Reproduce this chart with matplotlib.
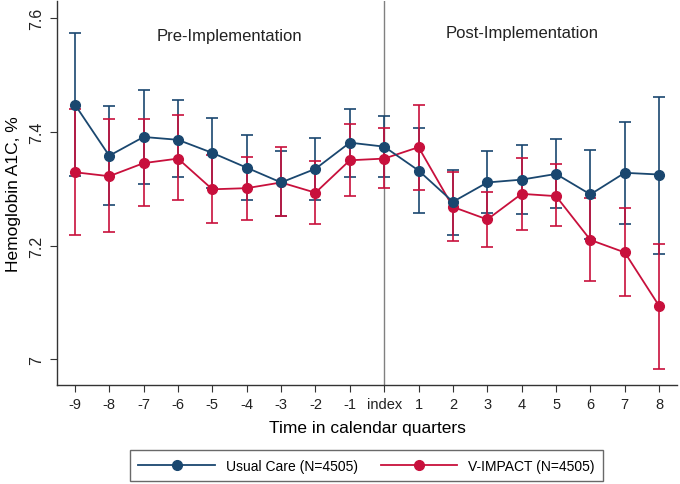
import matplotlib
matplotlib.use("Agg")
import matplotlib.pyplot as plt
import numpy as np

plt.rcParams['font.family'] = ['Liberation Sans', 'DejaVu Sans']

quarters = ['-9', '-8', '-7', '-6', '-5', '-4', '-3', '-2', '-1', 'index',
            '1', '2', '3', '4', '5', '6', '7', '8']

usual_mean = [7.448, 7.358, 7.391, 7.386, 7.363, 7.337, 7.311, 7.335, 7.381, 7.374,
              7.332, 7.277, 7.311, 7.316, 7.326, 7.290, 7.328, 7.325]
usual_lo = [7.322, 7.271, 7.309, 7.320, 7.301, 7.280, 7.252, 7.280, 7.320, 7.320,
            7.258, 7.219, 7.257, 7.255, 7.266, 7.212, 7.238, 7.186]
usual_hi = [7.574, 7.445, 7.474, 7.456, 7.425, 7.394, 7.366, 7.390, 7.441, 7.427,
            7.406, 7.333, 7.366, 7.377, 7.387, 7.368, 7.417, 7.462]

vimpact_mean = [7.329, 7.322, 7.345, 7.353, 7.299, 7.301, 7.311, 7.293, 7.350, 7.353,
                7.373, 7.268, 7.246, 7.291, 7.287, 7.210, 7.188, 7.094]
vimpact_lo = [7.219, 7.224, 7.269, 7.281, 7.239, 7.245, 7.252, 7.238, 7.288, 7.301,
              7.297, 7.209, 7.198, 7.228, 7.234, 7.137, 7.111, 6.983]
vimpact_hi = [7.440, 7.423, 7.423, 7.430, 7.360, 7.356, 7.373, 7.349, 7.413, 7.406,
              7.448, 7.329, 7.295, 7.354, 7.343, 7.283, 7.266, 7.202]

yticks = [7.0, 7.2, 7.4, 7.6]
ytick_labels = ['7', '7.2', '7.4', '7.6']

blue = '#1a476f'
red = '#c8103c'

fig = plt.figure(figsize=(6.8, 4.85), dpi=100)
ax = fig.add_axes([57/680, 1-386/485, (677-57)/680, (386-2)/485])

x = np.arange(len(quarters))
idx = quarters.index('index')

ax.axvline(idx, color='#808080', lw=1.0, zorder=1)

um = np.array(usual_mean); vm = np.array(vimpact_mean)
ax.errorbar(x, um, yerr=[um - np.array(usual_lo), np.array(usual_hi) - um],
            fmt='none', ecolor=blue, elinewidth=1.2, capsize=4, capthick=1.2, zorder=2)
ax.errorbar(x, vm, yerr=[vm - np.array(vimpact_lo), np.array(vimpact_hi) - vm],
            fmt='none', ecolor=red, elinewidth=1.2, capsize=4, capthick=1.2, zorder=3)
ax.plot(x, vm, color=red, lw=1.3, marker='o', ms=7, mec=red, mfc=red, zorder=4,
        label='V-IMPACT (N=4505)')
ax.plot(x, um, color=blue, lw=1.3, marker='o', ms=7, mec=blue, mfc=blue, zorder=5,
        label='Usual Care (N=4505)')

ax.set_xlim(-0.52, len(quarters) - 1 + 0.52)
ax.set_ylim(6.955, 7.63)
ax.set_xticks(x)
ax.set_xticklabels(quarters, fontsize=10.5, color='#222222')
ax.set_yticks(yticks)
ax.set_yticklabels(ytick_labels, fontsize=11.5, rotation=90, va='center', color='#222222')
ax.tick_params(direction='out', length=5, width=0.8, color='#333333', pad=4)
for s in ['top', 'right']:
    ax.spines[s].set_visible(False)
for s in ['left', 'bottom']:
    ax.spines[s].set_color('#333333')
    ax.spines[s].set_linewidth(1.0)

ax.set_ylabel('Hemoglobin A1C, %', fontsize=12.5, labelpad=6)
ax.set_xlabel('Time in calendar quarters', fontsize=12.5, labelpad=6)

ax.text(4.5, 7.57, 'Pre-Implementation', ha='center', va='center', fontsize=12, color='#222222')
ax.text(13.0, 7.575, 'Post-Implementation', ha='center', va='center', fontsize=12, color='#222222')

h, l = ax.get_legend_handles_labels()
leg = fig.legend([h[1], h[0]], [l[1], l[0]], ncol=2, loc='lower left',
                 bbox_to_anchor=(130/680, (485-482)/485, (603-130)/680, 32/485),
                 mode='expand', frameon=True, fancybox=False, fontsize=10,
                 handlelength=5.5, borderpad=0.6, handletextpad=0.8,
                 columnspacing=2.0, borderaxespad=0)
leg.get_frame().set_edgecolor('#444444')
leg.get_frame().set_linewidth(1.0)

fig.savefig('out.png', dpi=100)
